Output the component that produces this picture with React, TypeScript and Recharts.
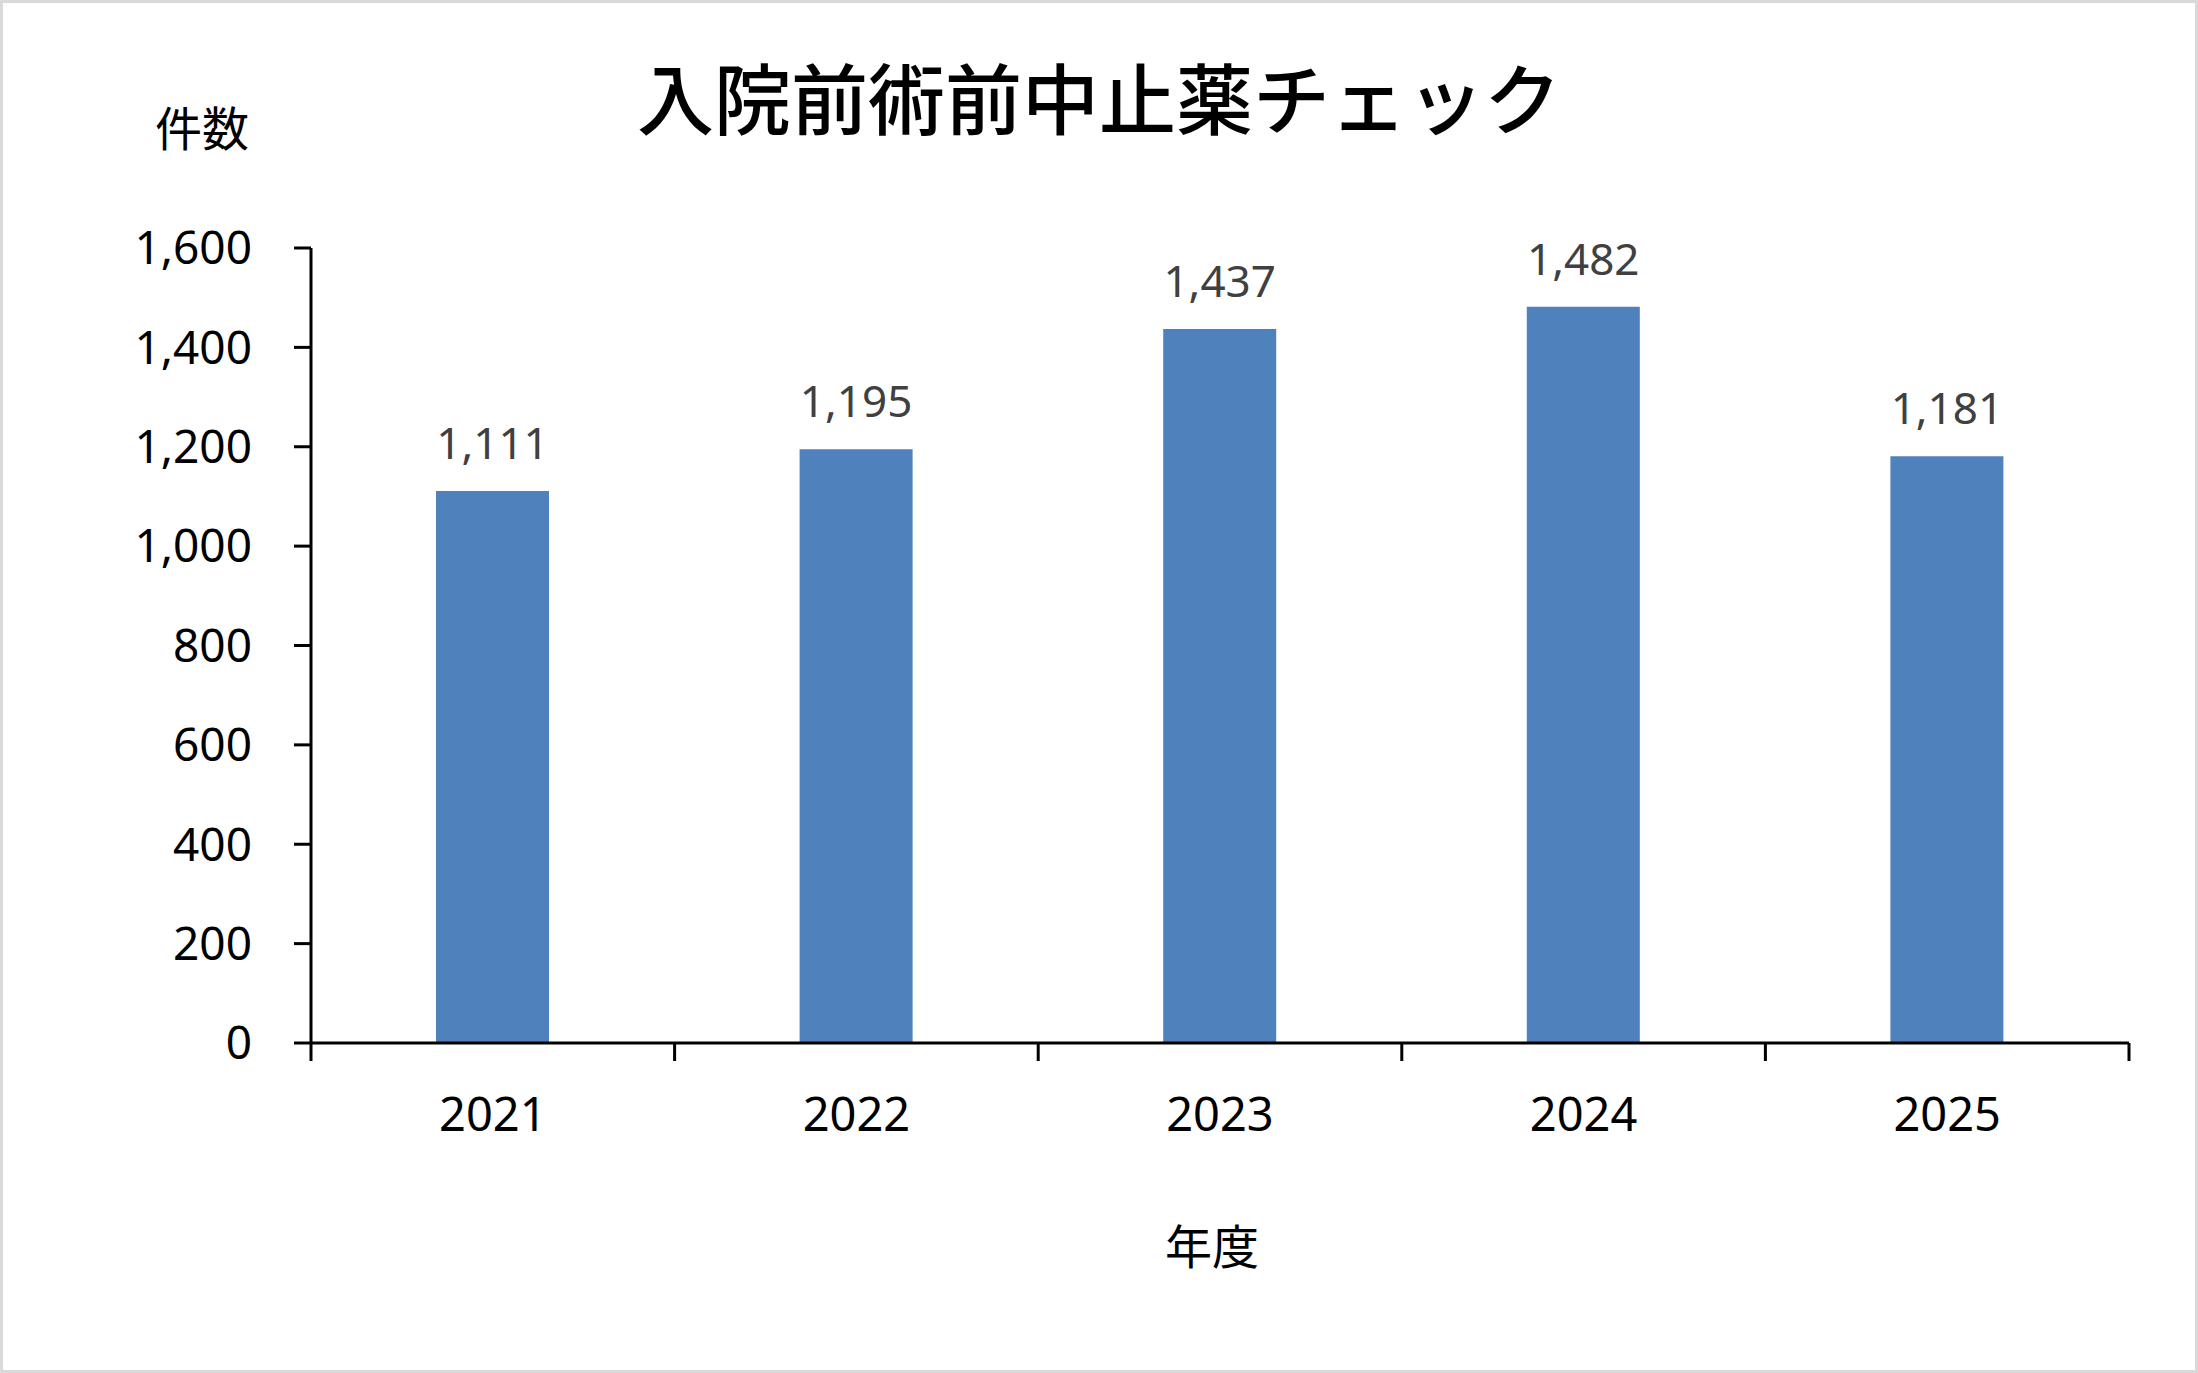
import {Bar, BarChart, LabelList, XAxis, YAxis} from "recharts";

const years = ["2021", "2022", "2023", "2024", "2025"];
const counts = [1111, 1195, 1437, 1482, 1181];
const yTicks = [0, 200, 400, 600, 800, 1000, 1200, 1400, 1600];

const data = years.map((year, i) => ({year, count: counts[i]}));

const font = "'Noto Sans', 'Noto Sans CJK JP', sans-serif";
const cjk = "'Noto Sans CJK JP', sans-serif";

const fmt = (v: number) => v.toLocaleString("en-US");

// category tick: label in the middle, tick marks on the category edges (Excel style)
const YearTick = (props: any) => {
    const {x, y, payload, index, visibleTicksCount} = props;
    const half = payload.offset || 0;
    const last = index === visibleTicksCount - 1;
    return (
        <g>
            <line x1={x - half} x2={x - half} y1={y} y2={y + 18} stroke="#000" strokeWidth={3}/>
            {last && <line x1={x + half} x2={x + half} y1={y} y2={y + 18} stroke="#000" strokeWidth={3}/>}
            <text x={x} y={y + 55} dy="0.71em" textAnchor="middle" fill="#000" fontSize={47}
                  fontFamily={font}>{payload.value}</text>
        </g>
    )
}

const App = () => {
    return (
        <div style={{position: "absolute", left: 0, top: 0, width: 2198, height: 1373, background: "#fff",
            border: "3px solid #d9d9d9", boxSizing: "border-box"}}>
            <div style={{position: "absolute", left: 0, width: 2192, top: 43, textAlign: "center",
                fontFamily: cjk, fontSize: 77, fontWeight: 500, lineHeight: "100px", color: "#000"}}>
                入院前術前中止薬チェック
            </div>
            <div style={{position: "absolute", left: 152, top: 95, fontFamily: cjk, fontSize: 47,
                lineHeight: "56px", color: "#000"}}>件数</div>
            <div style={{position: "absolute", left: 1162, top: 1213, fontFamily: cjk, fontSize: 47,
                lineHeight: "56px", color: "#000"}}>年度</div>
            <BarChart
                width={2198}
                height={1373}
                data={data}
                style={{position: "absolute", left: -3, top: -3}}
                margin={{top: 248, right: 69, left: 111, bottom: 230}}
            >
                <XAxis dataKey="year" height={100} tickSize={0} tickMargin={0} interval={0}
                       axisLine={{stroke: "#000", strokeWidth: 3}} tickLine={false}
                       tick={<YearTick/>}/>
                <YAxis width={200} domain={[0, 1600]} ticks={yTicks} tickFormatter={fmt} interval={0}
                       tickSize={17} tickMargin={42}
                       axisLine={{stroke: "#000", strokeWidth: 3}}
                       tickLine={{stroke: "#000", strokeWidth: 3}}
                       tick={{fill: "#000", fontSize: 46, fontFamily: font}}/>
                <Bar dataKey="count" fill="#4f81bd" barSize={113} isAnimationActive={false}>
                    <LabelList dataKey="count" position="top" offset={32} formatter={(v: any) => fmt(Number(v))}
                               style={{fill: "#404040", fontSize: 44, fontFamily: font}}/>
                </Bar>
            </BarChart>
        </div>
    )
}

export default App
